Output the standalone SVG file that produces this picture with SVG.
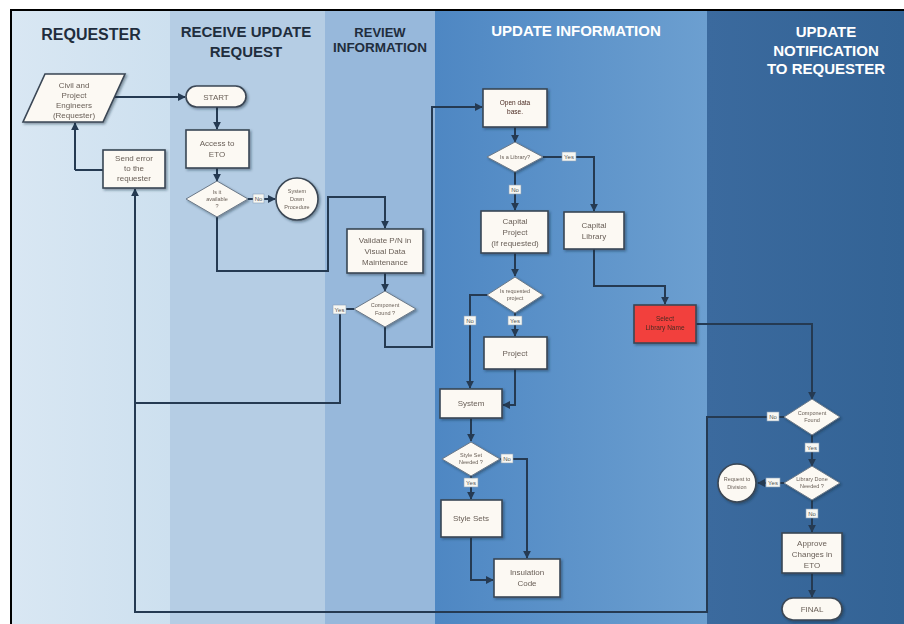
<svg xmlns="http://www.w3.org/2000/svg" width="904" height="624" viewBox="0 0 904 624">
<style>
.hd{font-family:"Liberation Sans",Arial,sans-serif;font-weight:bold;text-anchor:middle}
.hdk{fill:#1f2d3d}
.hdw{fill:#ffffff}
.nd{fill:#fcf9f3;stroke:#3a4654;stroke-width:1.6}
.dm{fill:#fcf9f3;stroke:#6a7888;stroke-width:1}
.rd{fill:#f2413d;stroke:#3a4654;stroke-width:1.6}
.t{font-family:"Liberation Sans",Arial,sans-serif;font-size:8px;fill:#6a6058;text-anchor:middle}
.td{font-family:"Liberation Sans",Arial,sans-serif;font-size:5.5px;fill:#6a6058;text-anchor:middle}
.tb{font-family:"Liberation Sans",Arial,sans-serif;font-size:6.5px;fill:#4a2a22;text-anchor:middle}
.c{fill:none;stroke:#253a52;stroke-width:2}
.lb{fill:#f7f7f2;stroke:#8aa0b8;stroke-width:0.6}
.lt{font-family:"Liberation Sans",Arial,sans-serif;font-size:6px;fill:#555;text-anchor:middle}
</style>
<defs>
<linearGradient id="g1" x1="0" x2="1" y1="0" y2="0"><stop offset="0" stop-color="#d9e7f3"/><stop offset="1" stop-color="#cde0ef"/></linearGradient>
<linearGradient id="g4" x1="0" x2="1" y1="0" y2="0"><stop offset="0" stop-color="#4e87c3"/><stop offset="1" stop-color="#6c9fd0"/></linearGradient>
<linearGradient id="g5" x1="0" x2="1" y1="0" y2="0"><stop offset="0" stop-color="#3b6a9e"/><stop offset="1" stop-color="#336395"/></linearGradient>
<marker id="ar" viewBox="0 0 10 10" refX="9" refY="5" markerWidth="4" markerHeight="4" orient="auto"><path d="M0,0 L10,5 L0,10 z" fill="#253a52"/></marker>
<filter id="sh" x="-20%" y="-20%" width="140%" height="140%"><feDropShadow dx="1.5" dy="1.5" stdDeviation="1" flood-color="#1a2a3a" flood-opacity="0.45"/></filter>
</defs>
<rect x="0" y="0" width="904" height="624" fill="#ffffff"/>
<g id="lanes">
<rect x="12" y="11" width="158" height="613" fill="url(#g1)"/>
<rect x="170" y="11" width="155" height="613" fill="#b5cde4"/>
<rect x="325" y="11" width="110" height="613" fill="#97b8db"/>
<rect x="435" y="11" width="272" height="613" fill="url(#g4)"/>
<rect x="707" y="11" width="197" height="613" fill="url(#g5)"/>
<line x1="11" y1="10" x2="11" y2="624" stroke="#000" stroke-width="2"/>
<line x1="10" y1="10" x2="904" y2="10" stroke="#000" stroke-width="2"/>
</g>
<g id="headers">
<text class="hd hdk" x="91" y="40" font-size="16">REQUESTER</text>
<text class="hd hdk" x="246" y="37" font-size="15">RECEIVE UPDATE</text>
<text class="hd hdk" x="246" y="57" font-size="15">REQUEST</text>
<text class="hd hdk" x="380" y="37" font-size="13">REVIEW</text>
<text class="hd hdk" x="380" y="52" font-size="13.5">INFORMATION</text>
<text class="hd hdw" x="576" y="36" font-size="15">UPDATE INFORMATION</text>
<text class="hd hdw" x="826" y="37" font-size="15">UPDATE</text>
<text class="hd hdw" x="826" y="56" font-size="15">NOTIFICATION</text>
<text class="hd hdw" x="826" y="74" font-size="15">TO REQUESTER</text>
</g>
<g id="connectors">
<path class="c" d="M114,97 H185" marker-end="url(#ar)"/>
<path class="c" d="M217,107 V129" marker-end="url(#ar)"/>
<path class="c" d="M217,168 V181" marker-end="url(#ar)"/>
<path class="c" d="M248,199 H275" marker-end="url(#ar)"/>
<path class="c" d="M217,217 V271 H328 V197 H385 V228" marker-end="url(#ar)"/>
<path class="c" d="M385,273 V291" marker-end="url(#ar)"/>
<path class="c" d="M354,309 H340 V403 H135"/>
<path class="c" d="M784,417 H707 V612 H135 V189" marker-end="url(#ar)"/>
<path class="c" d="M385,327 V347 H432 V107 H482" marker-end="url(#ar)"/>
<path class="c" d="M515,127 V142" marker-end="url(#ar)"/>
<path class="c" d="M543,157 H594 V211" marker-end="url(#ar)"/>
<path class="c" d="M515,172 V210" marker-end="url(#ar)"/>
<path class="c" d="M515,253 V276" marker-end="url(#ar)"/>
<path class="c" d="M488,295 H470 V388" marker-end="url(#ar)"/>
<path class="c" d="M515,313 V336" marker-end="url(#ar)"/>
<path class="c" d="M515,369 V405 H503" marker-end="url(#ar)"/>
<path class="c" d="M471,418 V441" marker-end="url(#ar)"/>
<path class="c" d="M500,459 H527 V558" marker-end="url(#ar)"/>
<path class="c" d="M471,476 V499" marker-end="url(#ar)"/>
<path class="c" d="M471,537 V580 H493" marker-end="url(#ar)"/>
<path class="c" d="M594,249 V286 H665 V304" marker-end="url(#ar)"/>
<path class="c" d="M696,324 H812 V399" marker-end="url(#ar)"/>
<path class="c" d="M812,435 V466" marker-end="url(#ar)"/>
<path class="c" d="M784,483 H758" marker-end="url(#ar)"/>
<path class="c" d="M812,500 V532" marker-end="url(#ar)"/>
<path class="c" d="M812,573 V597" marker-end="url(#ar)"/>
<path class="c" d="M75,170 H103"/>
<path class="c" d="M75,170 V123" marker-end="url(#ar)"/>
</g>
<g id="labels">
<rect class="lb" x="253" y="194" width="11" height="9"/><text class="lt" x="258.5" y="201">No</text>
<rect class="lb" x="333" y="305" width="13" height="9"/><text class="lt" x="339.5" y="312">Yes</text>
<rect class="lb" x="562" y="152" width="14" height="9"/><text class="lt" x="569" y="159">Yes</text>
<rect class="lb" x="509" y="185" width="12" height="9"/><text class="lt" x="515" y="192">No</text>
<rect class="lb" x="464" y="316" width="12" height="9"/><text class="lt" x="470" y="323">No</text>
<rect class="lb" x="508" y="316" width="14" height="9"/><text class="lt" x="515" y="323">Yes</text>
<rect class="lb" x="501" y="454" width="12" height="9"/><text class="lt" x="507" y="461">No</text>
<rect class="lb" x="464" y="478" width="14" height="9"/><text class="lt" x="471" y="485">Yes</text>
<rect class="lb" x="767" y="412" width="12" height="9"/><text class="lt" x="773" y="419">No</text>
<rect class="lb" x="805" y="443" width="14" height="9"/><text class="lt" x="812" y="450">Yes</text>
<rect class="lb" x="766" y="478" width="14" height="9"/><text class="lt" x="773" y="485">Yes</text>
<rect class="lb" x="806" y="509" width="12" height="9"/><text class="lt" x="812" y="516">No</text>
</g>
<g id="n-requester" filter="url(#sh)"><polygon class="nd" points="45,74 125,74 103,122 23,122"/>
<text class="t" x="74" y="88" font-size="7">Civil and</text><text class="t" x="74" y="98" font-size="7">Project</text><text class="t" x="74" y="108" font-size="7">Engineers</text><text class="t" x="74" y="118" font-size="7">(Requester)</text></g>
<g id="n-senderror" filter="url(#sh)"><rect class="nd" x="103" y="150" width="62" height="38"/>
<text class="t" x="134" y="161">Send error</text><text class="t" x="134" y="171">to the</text><text class="t" x="134" y="181">requester</text></g>
<g id="n-start" filter="url(#sh)"><rect class="nd" x="186" y="86" width="60" height="21" rx="10.5"/><text class="t" x="216" y="100" font-size="9">START</text></g>
<g id="n-access" filter="url(#sh)"><rect class="nd" x="186" y="130" width="63" height="38"/>
<text class="t" x="217" y="146">Access to</text><text class="t" x="217" y="157">ETO</text></g>
<g id="n-available" filter="url(#sh)"><polygon class="dm" points="217,181 248,199 217,217 186,199"/>
<text class="td" x="217" y="194">Is it</text><text class="td" x="217" y="201">available</text><text class="td" x="217" y="208">?</text></g>
<g id="n-sysdown" filter="url(#sh)"><circle class="nd" cx="297" cy="199" r="21"/>
<text class="td" x="297" y="193">System</text><text class="td" x="297" y="201">Down</text><text class="td" x="297" y="209">Procedure</text></g>
<g id="n-validate" filter="url(#sh)"><rect class="nd" x="347" y="229" width="76" height="44"/>
<text class="t" x="385" y="243">Validate P/N in</text><text class="t" x="385" y="254">Visual Data</text><text class="t" x="385" y="265">Maintenance</text></g>
<g id="n-found1" filter="url(#sh)"><polygon class="dm" points="385,291 416,309 385,327 354,309"/>
<text class="td" x="385" y="307">Component</text><text class="td" x="385" y="315">Found ?</text></g>
<g id="n-opendb" filter="url(#sh)"><rect class="nd" x="483" y="89" width="64" height="38"/>
<text class="tb" x="515" y="105">Open data</text><text class="tb" x="515" y="114">base.</text></g>
<g id="n-islib" filter="url(#sh)"><polygon class="dm" points="515,142 543,157 515,172 487,157"/>
<text class="td" x="515" y="159">Is a Library?</text></g>
<g id="n-capproj" filter="url(#sh)"><rect class="nd" x="481" y="211" width="67" height="42"/>
<text class="t" x="515" y="224">Capital</text><text class="t" x="515" y="235">Project</text><text class="t" x="515" y="246">(If requested)</text></g>
<g id="n-caplib" filter="url(#sh)"><rect class="nd" x="564" y="212" width="60" height="37"/>
<text class="t" x="594" y="228">Capital</text><text class="t" x="594" y="239">Library</text></g>
<g id="n-isreq" filter="url(#sh)"><polygon class="dm" points="515,277 543,295 515,313 487,295"/>
<text class="td" x="515" y="293">Is requested</text><text class="td" x="515" y="300">project</text></g>
<g id="n-project" filter="url(#sh)"><rect class="nd" x="484" y="337" width="63" height="32"/><text class="t" x="515" y="356">Project</text></g>
<g id="n-system" filter="url(#sh)"><rect class="nd" x="440" y="389" width="62" height="29"/><text class="t" x="471" y="406">System</text></g>
<g id="n-styleq" filter="url(#sh)"><polygon class="dm" points="471,442 500,459 471,476 442,459"/>
<text class="td" x="471" y="457">Style Set</text><text class="td" x="471" y="464">Needed ?</text></g>
<g id="n-stylesets" filter="url(#sh)"><rect class="nd" x="441" y="500" width="61" height="37"/><text class="t" x="471" y="521">Style Sets</text></g>
<g id="n-insul" filter="url(#sh)"><rect class="nd" x="494" y="559" width="66" height="38"/>
<text class="t" x="527" y="575">Insulation</text><text class="t" x="527" y="586">Code</text></g>
<g id="n-select" filter="url(#sh)"><rect class="rd" x="634" y="305" width="62" height="38"/>
<text class="tb" x="665" y="321">Select</text><text class="tb" x="665" y="330">Library Name</text></g>
<g id="n-found2" filter="url(#sh)"><polygon class="dm" points="812,399 840,417 812,435 784,417"/>
<text class="td" x="812" y="415">Component</text><text class="td" x="812" y="422">Found</text></g>
<g id="n-libdone" filter="url(#sh)"><polygon class="dm" points="812,466 840,483 812,500 784,483"/>
<text class="td" x="812" y="481">Library Done</text><text class="td" x="812" y="488">Needed ?</text></g>
<g id="n-request" filter="url(#sh)"><circle class="nd" cx="737" cy="483" r="19"/>
<text class="td" x="737" y="481">Request to</text><text class="td" x="737" y="489">Division</text></g>
<g id="n-approve" filter="url(#sh)"><rect class="nd" x="782" y="533" width="60" height="40"/>
<text class="t" x="812" y="546">Approve</text><text class="t" x="812" y="557">Changes in</text><text class="t" x="812" y="568">ETO</text></g>
<g id="n-final" filter="url(#sh)"><rect class="nd" x="782" y="598" width="60" height="22" rx="11"/><text class="t" x="812" y="612" font-size="9">FINAL</text></g>
</svg>
